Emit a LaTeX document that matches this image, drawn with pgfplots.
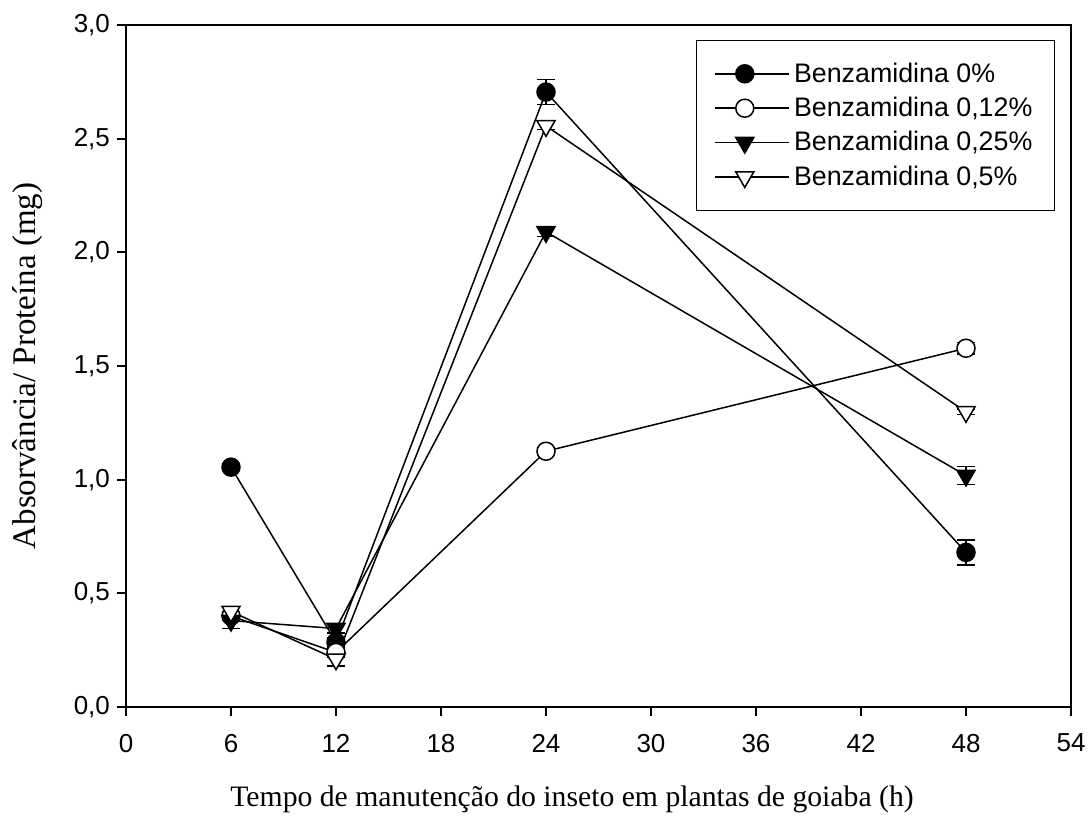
\documentclass[border=0pt]{standalone}
\usepackage{fontspec}
\setmainfont{Liberation Sans}
\newfontfamily\serifx{Liberation Serif}
\usepackage{pgfplots}
\pgfplotsset{compat=1.18}
\begin{document}
\begin{tikzpicture}
\begin{axis}[
  name=ax,
  scale only axis,
  width=472.5pt, height=341pt,
  xmin=0, xmax=54, ymin=0, ymax=3,
  xtick={0,6,...,54},
  ytick={0,0.5,...,3.0},
  yticklabel style={/pgf/number format/.cd, fixed, fixed zerofill, precision=1, use comma},
  xticklabel style={yshift=-5.5pt},
  /pgf/number format/assume math mode=true,
  ticklabel style={font=\fontsize{13}{15}\selectfont},
  xtick pos=bottom, ytick pos=left,
  tick align=outside,
  major tick length=4.5pt,
  tick style={line width=0.9pt, black},
  axis line style={line width=0.9pt},
  xlabel={\serifx\fontsize{14.85}{17}\selectfont Tempo de manutenção do inseto em plantas de goiaba (h)},
  ylabel={\serifx\fontsize{16.5}{18}\selectfont Absorvância/ Proteína (mg)},
  xlabel style={at={(axis description cs:0.472,-0.1466)}, anchor=base},
  ylabel style={at={(axis description cs:-0.1037,0.5)}, anchor=center, rotate=0},
  every axis plot/.append style={black, line width=0.75pt},
  error bars/error bar style={line width=0.75pt},
  error bars/error mark options={line width=0.75pt, mark size=4.5pt, rotate=90},
  legend style={at={(axis description cs:1,1)}, anchor=north east, xshift=-8pt, yshift=-7.5pt,
    font=\fontsize{13.4}{15}\selectfont, draw=black, line width=0.6pt,
    inner xsep=9pt, inner ysep=9pt, row sep=2pt, cells={anchor=west}},
  legend image code/.code={\path (0pt,0pt) -- (37pt,0pt);
    \draw[#1] (0pt,0pt) -- (29.5pt,0pt);
    \draw[mark repeat=2, mark phase=2, #1] plot coordinates {(0pt,0pt)(14.75pt,0pt)(29.5pt,0pt)};},
]
\addplot[mark=*, mark size=4.5pt, mark options={solid, fill=black},
  error bars/.cd, y dir=both, y explicit]
  table[x=x, y=y, y error=e] {
x y e
6 1.055 0.012
12 0.285 0.02
24 2.705 0.055
48 0.680 0.055
};
\addlegendentry{Benzamidina 0\%}
\addplot[mark=*, mark size=4.5pt, mark options={solid, fill=white},
  error bars/.cd, y dir=both, y explicit]
  table[x=x, y=y, y error=e] {
x y e
6 0.40 0.02
12 0.24 0.02
24 1.125 0.01
48 1.578 0.025
};
\addlegendentry{Benzamidina 0,12\%}
\addplot[mark=triangle*, mark size=5.2pt, mark options={solid, fill=black, rotate=180},
  error bars/.cd, y dir=both, y explicit]
  table[x=x, y=y, y error=e] {
x y e
6 0.380 0.035
12 0.345 0.02
24 2.090 0.02
48 1.018 0.04
};
\addlegendentry{Benzamidina 0,25\%}
\addplot[mark=triangle*, mark size=5.2pt, mark options={solid, fill=white, rotate=180},
  error bars/.cd, y dir=both, y explicit]
  table[x=x, y=y, y error=e] {
x y e
6 0.420 0.02
12 0.210 0.03
24 2.556 0.015
48 1.298 0.012
};
\addlegendentry{Benzamidina 0,5\%}
\end{axis}
\pgfresetboundingbox
\path (ax.south west) ++(-63pt,-54.5pt) coordinate (bl);
\path (ax.north east) ++(8.5pt,12.5pt) coordinate (tr);
\useasboundingbox (bl) rectangle (tr);
\end{tikzpicture}
\end{document}
